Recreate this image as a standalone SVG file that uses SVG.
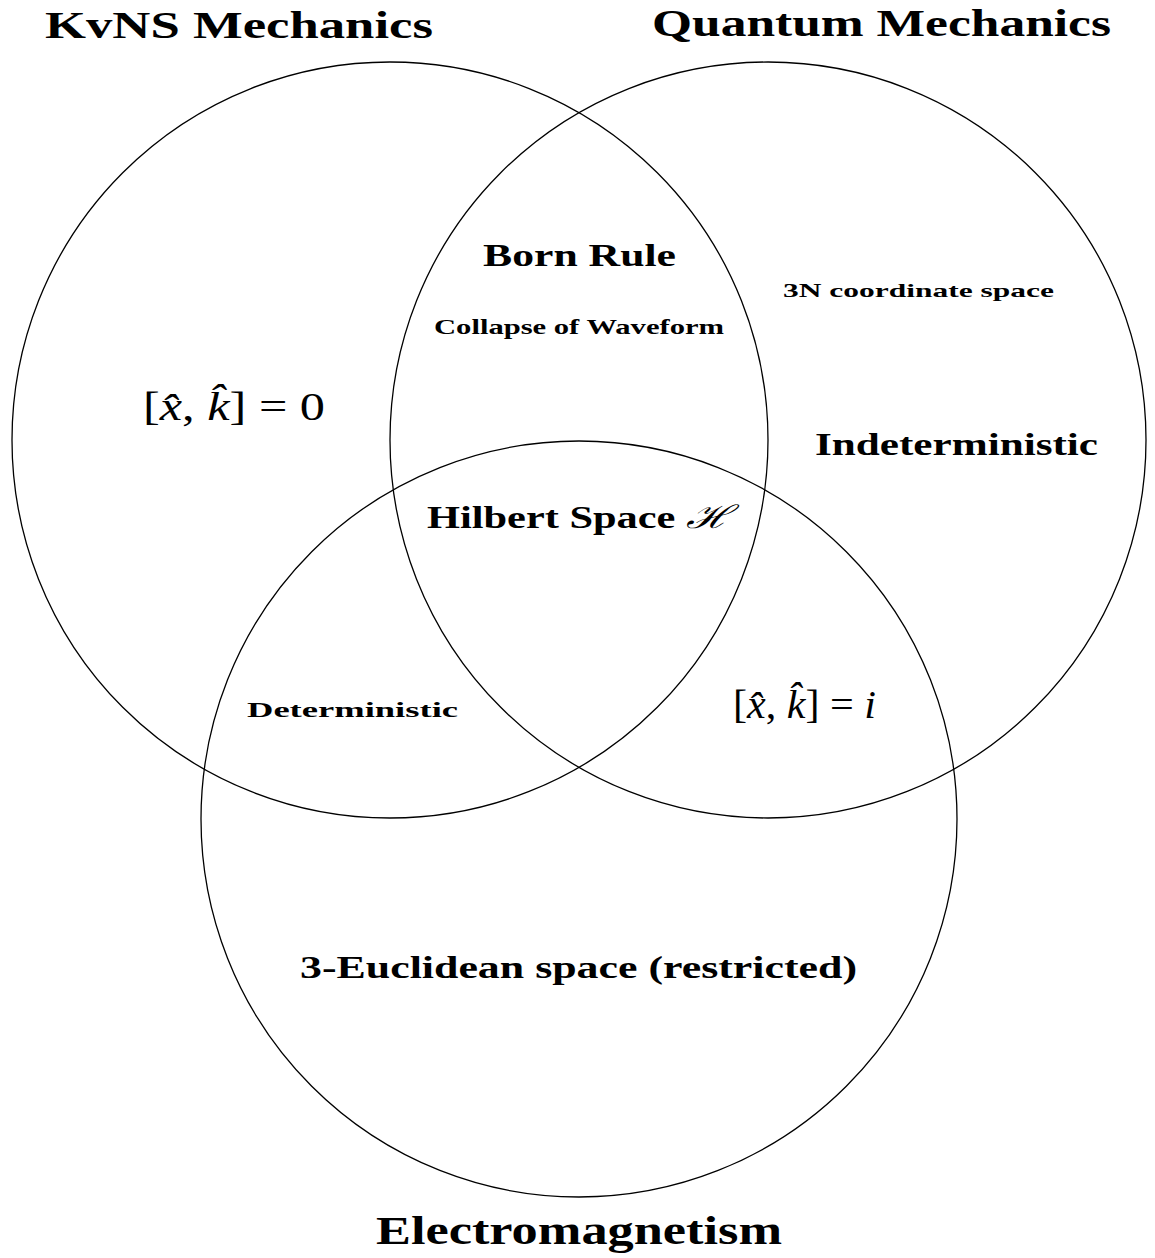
<svg xmlns="http://www.w3.org/2000/svg" width="1155" height="1258" viewBox="0 0 1155 1258">
<style>
.c{fill:none;stroke:#000;stroke-width:1.3}
.b{font-family:"Liberation Serif","DejaVu Serif",serif;font-weight:bold;fill:#000}
.m{font-family:"Liberation Serif","DejaVu Serif",serif;fill:#000}
.i{font-style:italic}
</style>
<rect width="1155" height="1258" fill="#fff"/>
<g id="circles">
<circle id="kvns" class="c" cx="390" cy="440" r="378"/>
<circle id="quantum" class="c" cx="768" cy="440" r="378"/>
<circle id="em" class="c" cx="579" cy="819" r="378"/>
</g>
<g id="labels">
<text class="b" x="45" y="38" font-size="38" textLength="388" lengthAdjust="spacingAndGlyphs">KvNS Mechanics</text>
<text class="b" x="652" y="36" font-size="38" textLength="459" lengthAdjust="spacingAndGlyphs">Quantum Mechanics</text>
<text class="b" x="483" y="266" font-size="32" textLength="193" lengthAdjust="spacingAndGlyphs">Born Rule</text>
<text class="b" x="434" y="334" font-size="21" textLength="290" lengthAdjust="spacingAndGlyphs">Collapse of Waveform</text>
<text class="b" x="783" y="297" font-size="19" textLength="271" lengthAdjust="spacingAndGlyphs">3N coordinate space</text>
<text class="b" x="815" y="455" font-size="32" textLength="283" lengthAdjust="spacingAndGlyphs">Indeterministic</text>
<text class="b" x="427" y="528" font-size="32" textLength="304" lengthAdjust="spacingAndGlyphs">Hilbert Space <tspan font-family="DejaVu Serif" font-weight="normal" font-style="italic">ℋ</tspan></text>
<text class="b" x="247" y="717" font-size="22" textLength="211" lengthAdjust="spacingAndGlyphs">Deterministic</text>
<text class="b" x="300" y="978" font-size="31" textLength="557" lengthAdjust="spacingAndGlyphs">3-Euclidean space (restricted)</text>
<text class="b" x="376" y="1244" font-size="40" textLength="406" lengthAdjust="spacingAndGlyphs">Electromagnetism</text>
<text id="eq1" class="m" x="143" y="420" font-size="40" textLength="182" lengthAdjust="spacingAndGlyphs">[<tspan class="i">x̂</tspan>, <tspan class="i">k̂</tspan>] = 0</text>
<text id="eq2" class="m" x="733" y="718" font-size="40" textLength="143" lengthAdjust="spacingAndGlyphs">[<tspan class="i">x̂</tspan>, <tspan class="i">k̂</tspan>] = <tspan class="i">i</tspan></text>
</g>
</svg>
